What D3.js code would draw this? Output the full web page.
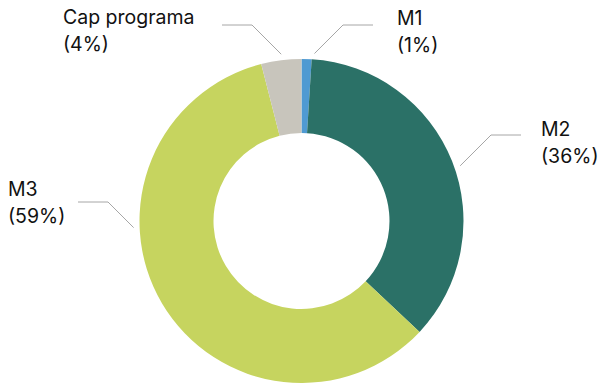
<!DOCTYPE html>
<html>
<head>
<meta charset="utf-8">
<script src="https://cdn.jsdelivr.net/npm/d3@7"></script>
<style>
  html, body { margin: 0; padding: 0; background: #fff; }
  svg { display: block; }
  text { font-family: Inter, "Noto Sans", sans-serif; font-size: 19.5px; fill: #111; }
</style>
</head>
<body>
<svg id="chart" width="598" height="384"></svg>
<script>
// Share of participants by modality
const categories = ["M1", "M2", "M3", "Cap programa"];
const shares = [1, 36, 59, 4];
const colors = ["#4f9ad2", "#2b7167", "#c6d45f", "#c8c5bc"];

// Label placement: first baseline of the text block, the outer end of each
// leader line, and which way the line runs to reach the ring
const labelLayout = [
  { tx: 397, ty: 25, lx: 373, ly: 25, dir: -1 },
  { tx: 541, ty: 136, lx: 521, ly: 135, dir: -1 },
  { tx: 8, ty: 196, lx: 78, ly: 202, dir: 1 },
  { tx: 63, ty: 24, lx: 222, ly: 25, dir: 1 }
];

const W = 598, H = 384;
const cx = 301.5, cy = 221;
const outerR = 162, innerR = 88;

const svg = d3.select("#chart");
const g = svg.append("g").attr("transform", `translate(${cx},${cy})`);

const pie = d3.pie().sort(null).value(d => d.value);
const arc = d3.arc().innerRadius(innerR).outerRadius(outerR);

const data = categories.map((c, i) => ({ name: c, value: shares[i], color: colors[i] }));
const arcs = pie(data);

g.selectAll("path.slice")
  .data(arcs)
  .join("path")
  .attr("class", "slice")
  .attr("d", arc)
  .attr("fill", d => d.data.color);

// Leader lines: horizontal run of 30px toward the ring, then a 45° segment down to just outside it
const reach = outerR + 6;
arcs.forEach((a, i) => {
  const L = labelLayout[i];
  const x0 = L.lx - cx, y0 = L.ly - cy;
  const ex = x0 + L.dir * 30, ey = y0;
  const dx = L.dir * Math.SQRT1_2, dy = Math.SQRT1_2;
  // solve |e + t*d| = reach for the first crossing
  const b = ex * dx + ey * dy;
  const c = ex * ex + ey * ey - reach * reach;
  const disc = b * b - c;
  const t = disc >= 0 ? -b - Math.sqrt(disc) : 41;
  const px = ex + dx * t, py = ey + dy * t;
  g.append("polyline")
    .attr("points", `${x0},${y0} ${ex},${ey} ${px},${py}`)
    .attr("fill", "none")
    .attr("stroke", "#a6a6a6")
    .attr("stroke-width", 1);

  const txt = svg.append("text").attr("x", L.tx).attr("y", L.ty);
  txt.append("tspan").attr("x", L.tx).text(a.data.name);
  txt.append("tspan").attr("x", L.tx).attr("dy", 27).text(`(${a.data.value}%)`);
});
</script>
</body>
</html>
